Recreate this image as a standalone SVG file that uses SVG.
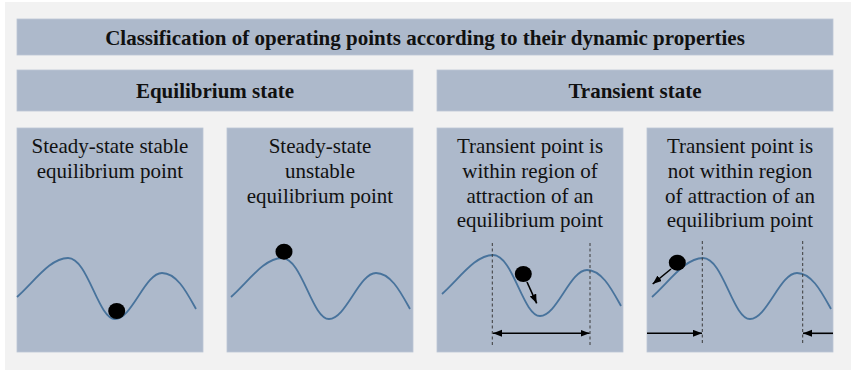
<svg xmlns="http://www.w3.org/2000/svg" width="852" height="372" viewBox="0 0 852 372">
<style>
.box{fill:#adb9cb;stroke:#bcc6d5;stroke-width:0.8}
.t{font-family:"Liberation Serif","Times New Roman",serif;font-size:21px;fill:#111;text-anchor:middle}
.b{font-weight:bold}
.curve{fill:none;stroke:#48739c;stroke-width:1.8}
.ball{fill:#000}
.dash{stroke:#3a3a3a;stroke-width:1;stroke-dasharray:3,2.5;fill:none}
.arr{stroke:#000;stroke-width:1.6;fill:none;marker-end:url(#ah)}
</style>
<defs>
<marker id="ah" markerUnits="userSpaceOnUse" markerWidth="10" markerHeight="8" refX="9" refY="3.5" orient="auto-start-reverse" viewBox="0 0 10 8">
<path d="M0,0 L9,3.5 L0,7 z" fill="#000"/>
</marker>
<path id="wave" d="M17,297 C34,282 50,258 68,258 C88,258 98,319 115,319 C132,319 145,273 162,273 C177,273 187,293 196,309"/>
</defs>
<rect x="5" y="2" width="846" height="368" fill="#f2f2f2"/>
<g id="title">
<rect class="box" x="17" y="19" width="816" height="36"/>
<text class="t b" x="425" y="45">Classification of operating points according to their dynamic properties</text>
</g>
<g id="equilibrium">
<rect class="box" x="17" y="70" width="396" height="41"/>
<text class="t b" x="215" y="98">Equilibrium state</text>
</g>
<g id="transient">
<rect class="box" x="437" y="70" width="396" height="41"/>
<text class="t b" x="635" y="98">Transient state</text>
</g>
<g id="stable">
<rect class="box" x="17" y="128" width="186" height="224"/>
<text class="t" x="110" y="153">Steady-state stable</text>
<text class="t" x="110" y="178">equilibrium point</text>
<use href="#wave" class="curve"/>
<ellipse class="ball" cx="116.7" cy="311" rx="8.5" ry="8"/>
</g>
<g id="unstable">
<rect class="box" x="227" y="128" width="186" height="224"/>
<text class="t" x="320" y="153">Steady-state</text>
<text class="t" x="320" y="178">unstable</text>
<text class="t" x="320" y="202.5">equilibrium point</text>
<use href="#wave" class="curve" transform="translate(214,0)"/>
<ellipse class="ball" cx="284" cy="251.7" rx="8.5" ry="8"/>
</g>
<g id="within">
<rect class="box" x="437" y="128" width="186" height="224"/>
<text class="t" x="530" y="153">Transient point is</text>
<text class="t" x="530" y="178">within region of</text>
<text class="t" x="530" y="202.5">attraction of an</text>
<text class="t" x="530" y="227">equilibrium point</text>
<use href="#wave" class="curve" transform="translate(425,-3)"/>
<line class="dash" x1="492.3" y1="243" x2="492.3" y2="347"/>
<line class="dash" x1="590" y1="243" x2="590" y2="347"/>
<ellipse class="ball" cx="523.3" cy="274" rx="8.5" ry="8"/>
</g>
<g id="notwithin">
<rect class="box" x="647" y="128" width="186" height="224"/>
<text class="t" x="740" y="153">Transient point is</text>
<text class="t" x="740" y="178">not within region</text>
<text class="t" x="740" y="202.5">of attraction of an</text>
<text class="t" x="740" y="227">equilibrium point</text>
<use href="#wave" class="curve" transform="translate(635,0)"/>
<line class="dash" x1="702.3" y1="241" x2="702.3" y2="344"/>
<line class="dash" x1="802.7" y1="241" x2="802.7" y2="344"/>
<ellipse class="ball" cx="677.3" cy="262.7" rx="8.5" ry="8"/>
</g>
<g id="connectors">
<line class="arr" x1="493" y1="333.3" x2="589.5" y2="333.3" marker-start="url(#ah)"/>
<line class="arr" x1="527" y1="282" x2="536.7" y2="303.3"/>
<line class="arr" x1="647" y1="333.3" x2="702" y2="333.3"/>
<line class="arr" x1="833" y1="333.3" x2="803" y2="333.3"/>
<line class="arr" x1="671" y1="269" x2="652.7" y2="284"/>
</g>
</svg>
